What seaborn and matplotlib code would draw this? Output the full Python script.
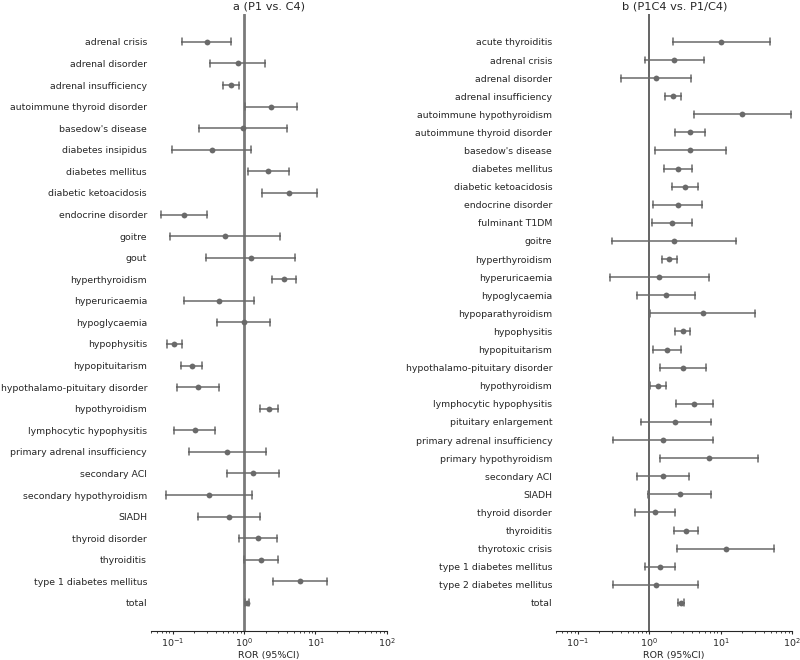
import matplotlib
matplotlib.use('Agg')
import matplotlib.pyplot as plt
import seaborn as sns
import pandas as pd

# panel a: P1 vs. C4
events_a = ['adrenal crisis', 'adrenal disorder', 'adrenal insufficiency',
            'autoimmune thyroid disorder', "basedow's disease", 'diabetes insipidus',
            'diabetes mellitus', 'diabetic ketoacidosis', 'endocrine disorder', 'goitre',
            'gout', 'hyperthyroidism', 'hyperuricaemia', 'hypoglycaemia', 'hypophysitis',
            'hypopituitarism', 'hypothalamo-pituitary disorder', 'hypothyroidism',
            'lymphocytic hypophysitis', 'primary adrenal insufficiency', 'secondary ACI',
            'secondary hypothyroidism', 'SIADH', 'thyroid disorder', 'thyroiditis',
            'type 1 diabetes mellitus', 'total']
ror_a = [0.30, 0.815, 0.65, 2.37, 0.97, 0.352, 2.19, 4.32, 0.143, 0.54,
         1.24, 3.60, 0.446, 0.99, 0.104, 0.185, 0.226, 2.24,
         0.203, 0.578, 1.32, 0.326, 0.616, 1.56, 1.71, 6.10, 1.10]
lo_a = [0.134, 0.337, 0.513, 1.02, 0.231, 0.099, 1.12, 1.79, 0.069, 0.092,
        0.296, 2.44, 0.146, 0.414, 0.084, 0.131, 0.114, 1.69,
        0.105, 0.169, 0.572, 0.081, 0.229, 0.85, 0.99, 2.58, 1.03]
hi_a = [0.66, 1.99, 0.84, 5.49, 4.05, 1.25, 4.24, 10.5, 0.30, 3.23,
        5.25, 5.31, 1.40, 2.34, 0.134, 0.26, 0.446, 3.03,
        0.388, 2.01, 3.10, 1.31, 1.69, 2.90, 2.97, 14.7, 1.19]

# panel b: P1C4 vs. P1/C4
events_b = ['acute thyroiditis', 'adrenal crisis', 'adrenal disorder', 'adrenal insufficiency',
            'autoimmune hypothyroidism', 'autoimmune thyroid disorder', "basedow's disease",
            'diabetes mellitus', 'diabetic ketoacidosis', 'endocrine disorder', 'fulminant T1DM',
            'goitre', 'hyperthyroidism', 'hyperuricaemia', 'hypoglycaemia', 'hypoparathyroidism',
            'hypophysitis', 'hypopituitarism', 'hypothalamo-pituitary disorder', 'hypothyroidism',
            'lymphocytic hypophysitis', 'pituitary enlargement', 'primary adrenal insufficiency',
            'primary hypothyroidism', 'secondary ACI', 'SIADH', 'thyroid disorder', 'thyroiditis',
            'thyrotoxic crisis', 'type 1 diabetes mellitus', 'type 2 diabetes mellitus', 'total']
ror_b = [10.1, 2.23, 1.24, 2.12, 20.0, 3.72, 3.76, 2.52, 3.13, 2.52, 2.07,
         2.19, 1.92, 1.39, 1.70, 5.62, 2.93, 1.78, 2.99, 1.33,
         4.29, 2.33, 1.56, 6.84, 1.58, 2.66, 1.20, 3.23, 11.8, 1.40, 1.24, 2.81]
lo_b = [2.14, 0.87, 0.406, 1.65, 4.20, 2.28, 1.20, 1.60, 2.09, 1.14, 1.09,
        0.296, 1.51, 0.284, 0.669, 1.03, 2.31, 1.14, 1.43, 1.02,
        2.36, 0.754, 0.31, 1.42, 0.676, 0.968, 0.627, 2.21, 2.46, 0.87, 0.313, 2.54]
hi_b = [48.9, 5.81, 3.85, 2.78, 95.7, 6.0, 11.8, 3.97, 4.78, 5.56, 3.97,
        16.5, 2.41, 6.91, 4.38, 30.3, 3.76, 2.81, 6.27, 1.72,
        7.87, 7.30, 7.79, 33.0, 3.64, 7.38, 2.33, 4.78, 55.6, 2.26, 4.88, 3.09]


def long_df(events, ror, lo, hi):
    # three values per event: median -> ROR, min/max -> 95% CI
    rows = []
    for e, r, l, h in zip(events, ror, lo, hi):
        rows += [(e, l), (e, r), (e, h)]
    return pd.DataFrame(rows, columns=['event', 'value'])


def forest(ax, events, ror, lo, hi, title, vline_color, vline_width, capsize):
    df = long_df(events, ror, lo, hi)
    ax.set_xscale('log')
    sns.pointplot(data=df, x='value', y='event', order=events, estimator='median',
                  errorbar=('pi', 100), linestyle='none', color='#6a6a6a',
                  markersize=4.2, markeredgewidth=0, capsize=capsize,
                  err_kws={'linewidth': 1.1}, ax=ax)
    ax.axvline(1, color=vline_color, linewidth=vline_width, zorder=0)
    n = len(events)
    ax.set_ylim(n - 1 + 0.05 * (n - 1), -0.05 * (n - 1))
    ax.set_xlim(0.05, 100)
    ax.set_title(title, fontsize=8.2, pad=3)
    ax.set_xlabel('ROR (95%CI)', fontsize=6.8, labelpad=1)
    ax.set_ylabel('')
    ax.tick_params(axis='y', length=0, labelsize=6.75, pad=3)
    ax.tick_params(axis='x', which='major', length=2.5, labelsize=6.8, pad=1.5)
    ax.tick_params(axis='x', which='minor', length=1.5)
    sns.despine(ax=ax, left=True)


sns.set_style('ticks')
plt.rcParams['font.family'] = ['DejaVu Sans']

fig, axes = plt.subplots(1, 2, figsize=(8, 6.6), dpi=100)
fig.subplots_adjust(left=0.189, right=0.99, top=0.979, bottom=0.044, wspace=0.72)

forest(axes[0], events_a, ror_a, lo_a, hi_a, 'a (P1 vs. C4)', '#7a7a7a', 2.0, 0.33)
forest(axes[1], events_b, ror_b, lo_b, hi_b, 'b (P1C4 vs. P1/C4)', '#3a3a3a', 1.1, 0.38)

plt.savefig('out.png', dpi=100)
